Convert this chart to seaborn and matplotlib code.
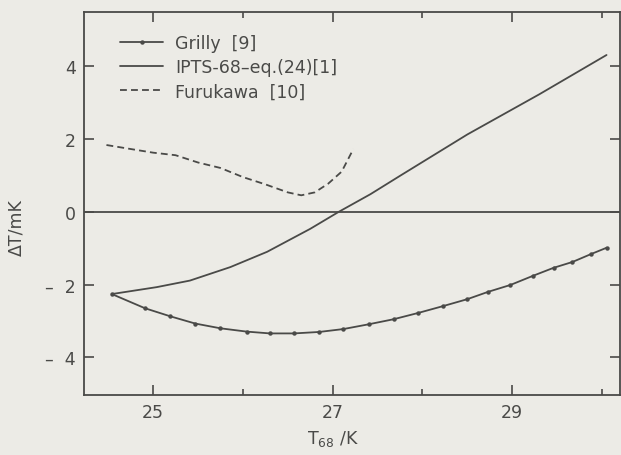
import matplotlib
matplotlib.use("Agg")
import matplotlib.pyplot as plt
from matplotlib.ticker import FixedLocator
import seaborn as sns
import numpy as np

# ---- data ----
grilly_T = [24.54, 24.91, 25.19, 25.47, 25.75, 26.04, 26.30, 26.57, 26.85, 27.12, 27.40,
            27.68, 27.95, 28.23, 28.50, 28.73, 28.98, 29.23, 29.46, 29.67, 29.88, 30.05]
grilly_dT = [-2.26, -2.65, -2.87, -3.07, -3.20, -3.29, -3.34, -3.34, -3.30, -3.22, -3.09,
             -2.95, -2.78, -2.59, -2.40, -2.20, -2.01, -1.76, -1.54, -1.38, -1.16, -0.99]

ipts_T = [24.54, 25.04, 25.41, 25.86, 26.27, 26.75, 27.07, 27.42, 27.76, 28.50, 29.30, 30.05]
ipts_dT = [-2.26, -2.07, -1.89, -1.52, -1.10, -0.47, 0.00, 0.48, 1.00, 2.12, 3.22, 4.30]

furu_T = [24.48, 24.75, 25.00, 25.25, 25.50, 25.75, 26.00, 26.25, 26.50, 26.65, 26.80,
          26.95, 27.10, 27.23]
furu_dT = [1.83, 1.72, 1.62, 1.55, 1.35, 1.20, 0.95, 0.75, 0.53, 0.45, 0.53, 0.77, 1.10, 1.72]

labels = ["Grilly  [9]", "IPTS-68\u2013eq.(24)[1]", "Furukawa  [10]"]
x_major = [25, 27, 29]
x_minor = [26, 28, 30]
y_ticks = [-4, -2, 0, 2, 4]
y_ticklabels = ["\u2013  4", "\u2013  2", "0", "2", "4"]

# ---- style ----
sns.set_style("ticks")
bg = "#ecebe6"
ink = "#4a4a48"
plt.rcParams["font.family"] = ["DejaVu Sans"]
plt.rcParams["font.size"] = 12.5
plt.rcParams["text.color"] = ink
plt.rcParams["axes.labelcolor"] = ink
plt.rcParams["xtick.color"] = ink
plt.rcParams["ytick.color"] = ink

fig = plt.figure(figsize=(6.21, 4.56), dpi=100, facecolor=bg)
ax = fig.add_axes([84 / 621, 1 - 396 / 456, 536 / 621, 383 / 456])
ax.set_facecolor(bg)

sns.lineplot(x=grilly_T, y=grilly_dT, ax=ax, color=ink, lw=1.3, marker="o",
             markersize=3.2, markeredgewidth=0, estimator=None, sort=False, label=labels[0])
sns.lineplot(x=ipts_T, y=ipts_dT, ax=ax, color=ink, lw=1.3, estimator=None,
             sort=False, label=labels[1])
sns.lineplot(x=furu_T, y=furu_dT, ax=ax, color=ink, lw=1.3, estimator=None,
             sort=False, label=labels[2], linestyle=(0, (3.8, 2.3)))

ax.axhline(0, color=ink, lw=1.3, zorder=1)

ax.set_xlim(24.23, 30.2)
ax.set_ylim(-5.03, 5.48)

ax.xaxis.set_major_locator(FixedLocator(x_major))
ax.xaxis.set_minor_locator(FixedLocator(x_minor))
ax.set_xticklabels([str(v) for v in x_major])
ax.set_yticks(y_ticks)
ax.set_yticklabels(y_ticklabels)

ax.tick_params(axis="both", which="major", direction="in", length=7, width=1.2,
               top=True, right=True, labelsize=12.5, pad=6)
ax.tick_params(axis="both", which="minor", direction="in", length=4, width=1.2,
               top=True, right=True)

for s in ax.spines.values():
    s.set_visible(True)
    s.set_color(ink)
    s.set_linewidth(1.3)

ax.set_xlabel("T$_{68}$ /K", fontsize=12.5)
ax.xaxis.set_label_coords(0.465, -0.085)
ax.set_ylabel("\u0394T/mK", fontsize=12.5)
ax.yaxis.set_label_coords(-0.11, 0.44)

leg = ax.legend(loc="upper left", bbox_to_anchor=(0.067, 0.942), frameon=False,
                borderaxespad=0, borderpad=0, handlelength=2.5, handletextpad=0.7,
                labelspacing=0.35, fontsize=12.5)
for t in leg.get_texts():
    t.set_color(ink)

fig.savefig("out.png", dpi=100, facecolor=bg)
